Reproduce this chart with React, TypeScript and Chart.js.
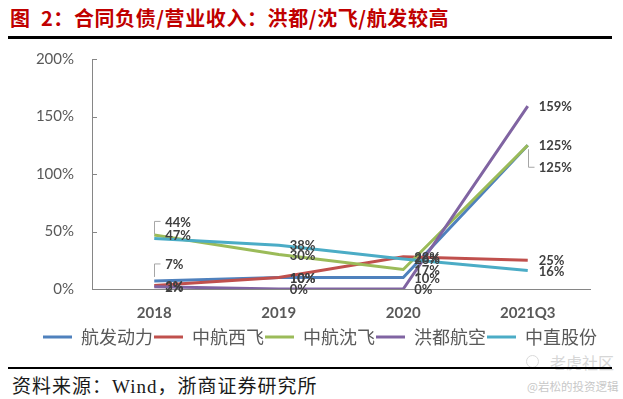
import React, { useEffect, useRef } from 'react';
import { Chart, registerables } from 'chart.js';

Chart.register(...registerables);

const categories = ['2018', '2019', '2020', '2021Q3'];
const seriesNames = ['航发动力', '中航西飞', '中航沈飞', '洪都航空', '中直股份'];
const hangfa = [7, 10, 10, 125];
const xifei = [3, 10, 28, 25];
const shenfei = [47, 30, 17, 125];
const hongdu = [2, 0, 0, 159];
const zhongzhi = [44, 38, 26, 16];
const yTicks = [0, 50, 100, 150, 200];

const seriesValues = [hangfa, xifei, shenfei, hongdu, zhongzhi];
const colors = ['#4F81BD', '#C0504D', '#9BBB59', '#8064A2', '#4BACC6'];

// label vertical displacement (px) for labels with leader lines: "series-index"
const labelShift: Record<string, number> = { '0-0': -17, '4-0': -17, '0-3': 22 };

const dataLabelPlugin = {
  id: 'dataLabels',
  afterDatasetsDraw(chart: any) {
    const ctx = chart.ctx;
    ctx.save();
    chart.data.datasets.forEach((ds: any, i: number) => {
      const meta = chart.getDatasetMeta(i);
      meta.data.forEach((pt: any, j: number) => {
        const v = ds.data[j];
        const shift = labelShift[`${i}-${j}`] || 0;
        const x = pt.x;
        const y = pt.y;
        const ly = y + shift;
        if (shift) {
          ctx.strokeStyle = '#A6A6A6';
          ctx.lineWidth = 1;
          ctx.beginPath();
          const x0 = Math.round(x) + 0.5;
          ctx.moveTo(x0, y + (shift < 0 ? -4 : 4));
          ctx.lineTo(x0, ly);
          ctx.lineTo(x0 + 6, ly);
          ctx.stroke();
        }
        ctx.fillStyle = '#404040';
        ctx.font = 'bold 13px Lato';
        ctx.textAlign = 'left';
        ctx.textBaseline = 'middle';
        ctx.fillText(v + '%', x + 11, ly + 1);
      });
    });
    ctx.restore();
  },
};

const innerTicksPlugin = {
  id: 'innerTicks',
  beforeDatasetsDraw(chart: any) {
    const ys = chart.scales.y;
    const ctx = chart.ctx;
    ctx.save();
    ctx.strokeStyle = '#868686';
    ctx.lineWidth = 1;
    ys.ticks.forEach((t: any) => {
      const py = Math.round(ys.getPixelForValue(t.value)) + 0.5;
      ctx.beginPath();
      ctx.moveTo(ys.right, py);
      ctx.lineTo(ys.right + 5, py);
      ctx.stroke();
    });
    ctx.restore();
  },
};

function LineChart() {
  const ref = useRef<HTMLCanvasElement>(null);
  useEffect(() => {
    if (!ref.current) return;
    const chart = new Chart(ref.current, {
      type: 'line',
      data: {
        labels: categories,
        datasets: seriesValues.map((vals, i) => ({
          label: seriesNames[i],
          data: vals,
          borderColor: colors[i],
          backgroundColor: colors[i],
          borderWidth: 3,
          pointRadius: 0,
          tension: 0,
          order: seriesValues.length - i,
        })),
      },
      options: {
        responsive: false,
        animation: false,
        layout: { autoPadding: false, padding: { left: 17, right: 0, top: 19, bottom: 4 } },
        plugins: {
          tooltip: { enabled: false },
          legend: {
            position: 'bottom',
            labels: {
              boxWidth: 29,
              boxHeight: 3,
              padding: 1,
              color: '#595959',
              font: { size: 18, family: '"Noto Sans CJK SC"' },
              generateLabels: (c: any) =>
                Chart.defaults.plugins.legend.labels
                  .generateLabels(c)
                  .map((l: any) => ({ ...l, lineWidth: 0 }))
                  .sort((a: any, b: any) => a.datasetIndex - b.datasetIndex),
            },
          },
        },
        scales: {
          x: {
            offset: true,
            grid: { display: false, drawTicks: false },
            border: { display: true, color: '#868686', width: 1 },
            afterFit: (s: any) => {
              s.height = 38;
            },
            ticks: {
              padding: 15,
              color: '#595959',
              font: { size: 15, weight: 'bold', family: 'Lato' },
            },
          },
          y: {
            min: 0,
            max: 200,
            afterBuildTicks: (s: any) => {
              s.ticks = yTicks.map((v) => ({ value: v }));
            },
            afterFit: (s: any) => {
              s.width = 75;
            },
            grid: { display: false, drawTicks: false },
            border: { display: true, color: '#868686', width: 1 },
            ticks: {
              padding: 18,
              color: '#595959',
              font: { size: 15, family: 'Lato' },
              callback: (v: any) => v + '%',
            },
          },
          yRight: {
            position: 'right',
            display: true,
            grid: { display: false, drawTicks: false },
            border: { display: false },
            ticks: { display: false },
            afterFit: (s: any) => {
              s.width = 33;
            },
          },
        },
      },
      plugins: [innerTicksPlugin, dataLabelPlugin],
    });
    return () => chart.destroy();
  }, []);
  return <canvas ref={ref} width={623} height={328} style={{ width: 623, height: 328, display: 'block' }} />;
}

export default function App() {
  return (
    <div style={{ position: 'fixed', left: 0, top: 0, width: 623, height: 399, background: '#fff', overflow: 'hidden' }}>
      <div
        style={{
          position: 'absolute',
          left: 10,
          top: 6,
          font: 'bold 20px "Noto Sans CJK SC", sans-serif',
          lineHeight: '24px',
          letterSpacing: '0.6px',
          color: '#C00000',
          whiteSpace: 'pre',
        }}
      >
        {'图  2：合同负债/营业收入：洪都/沈飞/航发较高'}
      </div>
      <div style={{ position: 'absolute', left: 8, top: 36, width: 604, height: 3, background: '#000' }} />
      <div
        style={{
          position: 'absolute',
          left: 526,
          top: 355,
          width: 11,
          height: 11,
          borderRadius: '50%',
          border: '1.5px solid #DADADA',
        }}
      />
      <div
        style={{
          position: 'absolute',
          left: 550,
          top: 351,
          font: '16px "Noto Sans CJK SC", sans-serif',
          lineHeight: '22px',
          color: '#D6D6D6',
          whiteSpace: 'nowrap',
        }}
      >
        老虎社区
      </div>
      <div style={{ position: 'absolute', left: 0, top: 32, width: 623, height: 328 }}>
        <LineChart />
      </div>
      <div style={{ position: 'absolute', left: 8, top: 367, width: 604, height: 2, background: '#000' }} />
      <div
        style={{
          position: 'absolute',
          left: 12,
          top: 375,
          font: '19px "Liberation Serif", "Noto Sans CJK SC", serif',
          lineHeight: '24px',
          letterSpacing: '1px',
          color: '#1a1a1a',
          whiteSpace: 'nowrap',
        }}
      >
        资料来源：Wind，浙商证券研究所
      </div>
      <div
        style={{
          position: 'absolute',
          left: 527,
          top: 379,
          font: '11.5px "Noto Sans CJK SC", sans-serif',
          lineHeight: '14px',
          color: '#C8C8C8',
          whiteSpace: 'nowrap',
        }}
      >
        @岩松的投资逻辑
      </div>
    </div>
  );
}
